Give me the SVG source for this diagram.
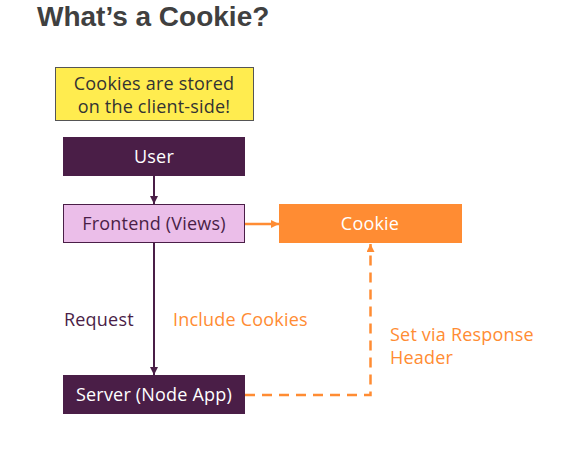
<svg xmlns="http://www.w3.org/2000/svg" width="573" height="455" viewBox="0 0 573 455">
<defs>
<style>
.t{font-family:"Open Sans","Noto Sans","Liberation Sans",sans-serif;font-size:18px;letter-spacing:0.2px}
.c{text-anchor:middle}
.w{fill:#ffffff}
.p{fill:#4a1e47}
.o{fill:#ff8c33}
</style>
<marker id="ap" viewBox="0 0 8 8" refX="8" refY="4" markerWidth="8" markerHeight="8" markerUnits="userSpaceOnUse" orient="auto"><path d="M0,0 L8,4 L0,8 z" fill="#4a1e47"/></marker>
<marker id="ao" viewBox="0 0 8 8" refX="8" refY="4" markerWidth="8" markerHeight="8" markerUnits="userSpaceOnUse" orient="auto"><path d="M0,0 L8,4 L0,8 z" fill="#ff8c33"/></marker>
</defs>
<rect width="573" height="455" fill="#ffffff"/>
<text x="37" y="26" font-family="'Liberation Sans',Arial,sans-serif" font-weight="bold" font-size="28" fill="#404040">What’s a Cookie?</text>
<g id="note">
<rect x="55.5" y="67.5" width="198" height="53" fill="#ffec4f" stroke="#555555" stroke-width="1"/>
<text class="t c" x="154" y="90" fill="#333333">Cookies are stored</text>
<text class="t c" x="154" y="113" fill="#333333">on the client-side!</text>
</g>
<g id="user">
<rect x="63" y="137" width="182" height="39" fill="#4a1e47"/>
<text class="t c w" x="154" y="163">User</text>
</g>
<g id="frontend">
<rect x="63.5" y="204.5" width="181" height="38" fill="#ebbee9" stroke="#4a1e47" stroke-width="1"/>
<text class="t c p" x="154" y="230">Frontend (Views)</text>
</g>
<g id="cookie">
<rect x="279" y="204" width="183" height="39" fill="#ff8c33"/>
<text class="t c w" x="370" y="230">Cookie</text>
</g>
<g id="server">
<rect x="63" y="375" width="182" height="39" fill="#4a1e47"/>
<text class="t c w" x="154" y="401">Server (Node App)</text>
</g>
<g id="connectors">
<line x1="154" y1="176" x2="154" y2="204" stroke="#4a1e47" stroke-width="2" marker-end="url(#ap)"/>
<line x1="245" y1="224" x2="279" y2="224" stroke="#ff8c33" stroke-width="2.5" marker-end="url(#ao)"/>
<line x1="154" y1="243" x2="154" y2="375" stroke="#4a1e47" stroke-width="2" marker-end="url(#ap)"/>
<polyline points="245,395 370.5,395 370.5,244" fill="none" stroke="#ff8c33" stroke-width="2.5" stroke-dasharray="10,7" marker-end="url(#ao)"/>
</g>
<g id="labels">
<text class="t p" x="64" y="326">Request</text>
<text class="t o" x="173" y="326">Include Cookies</text>
<text class="t o" x="390" y="341">Set via Response</text>
<text class="t o" x="390" y="364">Header</text>
</g>
</svg>
